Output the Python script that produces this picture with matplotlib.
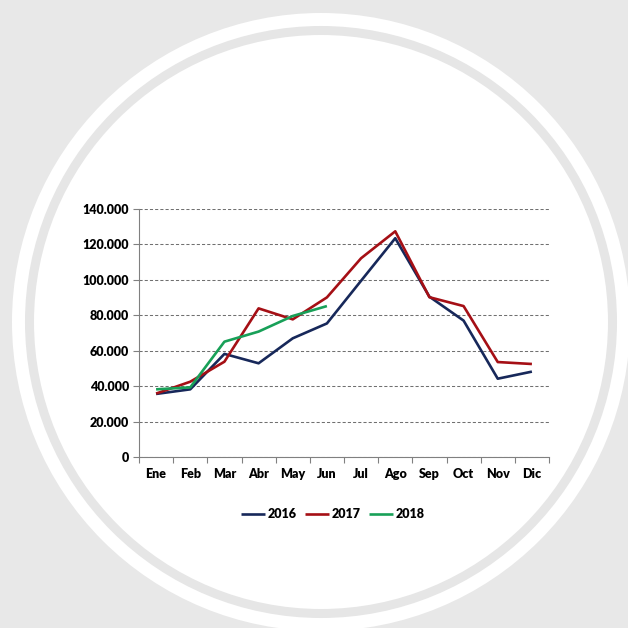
import matplotlib.pyplot as plt
from matplotlib.patches import Circle
from matplotlib.ticker import FuncFormatter

months = ["Ene", "Feb", "Mar", "Abr", "May", "Jun", "Jul", "Ago", "Sep", "Oct", "Nov", "Dic"]
v2016 = [35600, 38200, 58200, 52900, 67000, 75400, 99500, 123500, 90500, 77000, 44200, 48200]
v2017 = [35800, 42500, 53800, 83900, 77700, 90100, 112200, 127400, 90200, 85200, 53600, 52500]
v2018 = [38200, 39300, 65100, 70800, 79600, 85200]

series = [("2016", v2016, "#17285a"), ("2017", v2017, "#a50f15"), ("2018", v2018, "#18a058")]

plt.rcParams["font.family"] = ["Lato", "DejaVu Sans"]
plt.rcParams["font.weight"] = "heavy"

W = 628
fig = plt.figure(figsize=(6.28, 6.28), dpi=100)
fig.patch.set_facecolor("#e8e8e8")

# background disc with its thin grey ring
bg = fig.add_axes([0, 0, 1, 1])
bg.set_xlim(0, W)
bg.set_ylim(W, 0)
bg.axis("off")
bg.add_patch(Circle((321, 322), 309, facecolor="white", edgecolor="none"))
bg.add_patch(Circle((321, 322), 291.5, facecolor="none", edgecolor="#e6e6e6", linewidth=6.5))

ax = fig.add_axes([139 / W, 1 - 457 / W, 410 / W, 248 / W])
ax.set_facecolor("none")
x = list(range(len(months)))
for name, vals, color in series:
    ax.plot(x[:len(vals)], vals, color=color, linewidth=1.9, label=name, solid_capstyle="butt")

ax.set_xlim(-0.5, len(months) - 0.5)
ax.set_ylim(0, 140000)
ax.set_yticks(range(0, 140001, 20000))
ax.yaxis.set_major_formatter(FuncFormatter(lambda v, p: f"{int(v):,}".replace(",", ".")))
ax.set_xticks(x)
ax.set_xticklabels(months)
ax.set_xticks([i - 0.5 for i in range(len(months) + 1)], minor=True)
ax.tick_params(axis="x", which="major", length=0, pad=8, labelsize=9)
ax.tick_params(axis="x", which="minor", length=4, color="#808080", width=0.8)
ax.tick_params(axis="y", length=4, color="#808080", width=0.8, labelsize=9, pad=3)
ax.grid(axis="y", linestyle=(0, (3, 2)), color="#707070", linewidth=0.75)
ax.set_axisbelow(True)
for side in ("top", "right"):
    ax.spines[side].set_visible(False)
for side in ("left", "bottom"):
    ax.spines[side].set_color("#808080")
    ax.spines[side].set_linewidth(0.8)

fig.legend(loc="center", bbox_to_anchor=(333 / W, 1 - 514 / W), ncol=3, frameon=False,
           fontsize=9, handlelength=1.9, handletextpad=0.2, columnspacing=0.7)

fig.savefig("out.png", dpi=100, facecolor=fig.get_facecolor())
